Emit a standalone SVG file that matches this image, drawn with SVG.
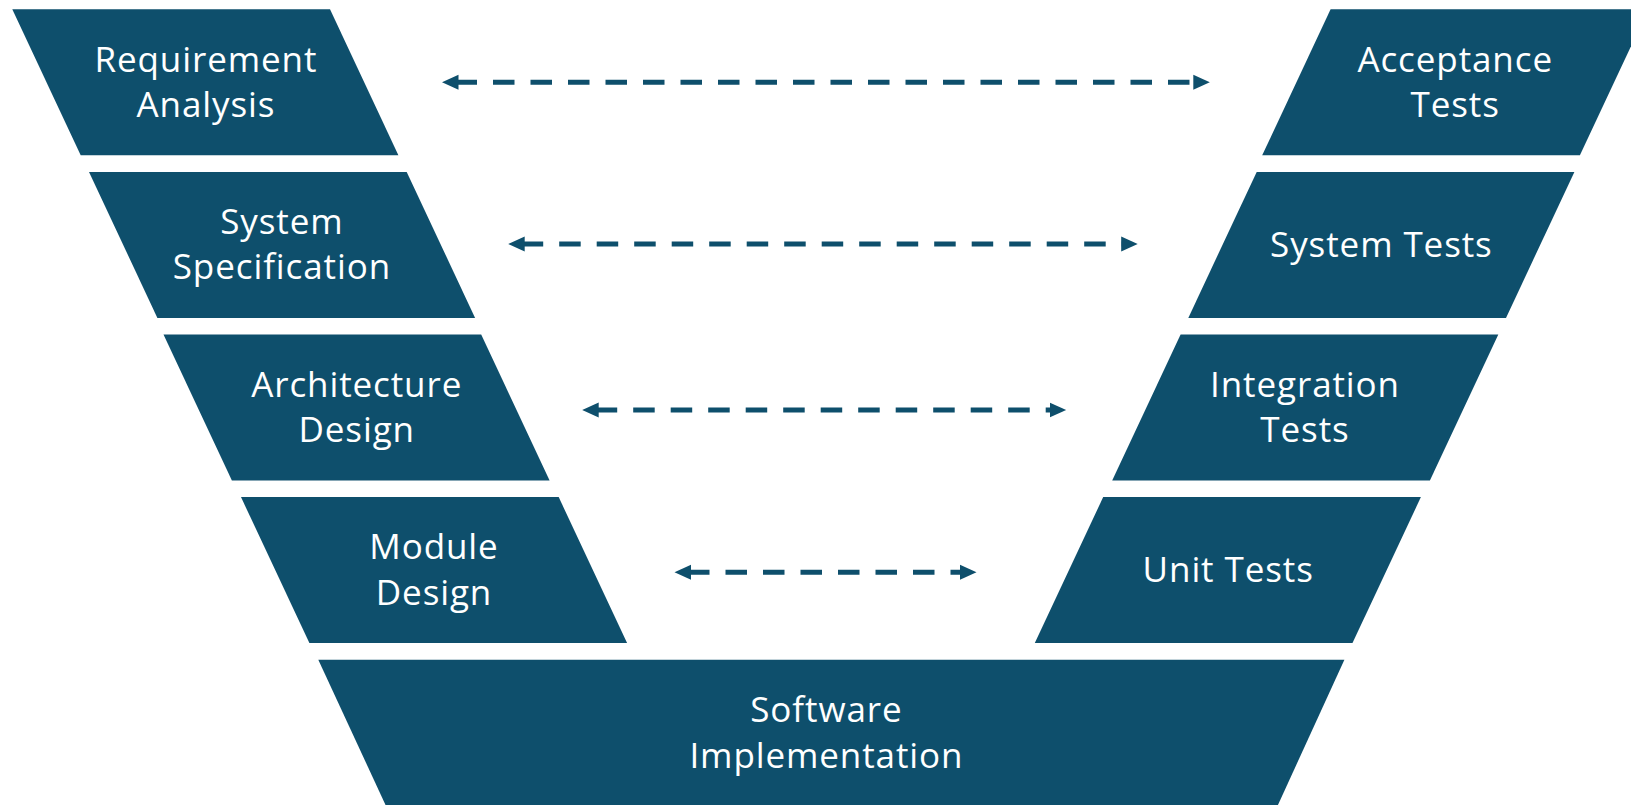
<svg xmlns="http://www.w3.org/2000/svg" width="1631" height="805" viewBox="0 0 1631 805">
  <style>
    .stage { fill: #0E4F6C; }
    .label { fill: #FFFFFF; font-family: "Open Sans", "Noto Sans", sans-serif; font-size: 35px; letter-spacing: 0.9px; text-anchor: middle; }
    .link { stroke: #0E4F6C; stroke-width: 5; fill: none; stroke-dasharray: 21.5 16; }
  </style>
  <defs>
    <marker id="head" markerUnits="userSpaceOnUse" markerWidth="17" markerHeight="16" refX="3" refY="7.5" orient="auto-start-reverse" viewBox="0 0 17 15">
      <path d="M0,0 L16.5,7.5 L0,15 Z" fill="#0E4F6C"/>
    </marker>
  </defs>

  <rect width="1631" height="805" fill="#FFFFFF"/>

  <!-- left arm: specification stages -->
  <g id="requirement-analysis">
    <polygon class="stage" points="12.3,9.3 330,9.3 398.4,155.3 80.7,155.3"/>
    <text class="label" x="205.9" y="71.7">Requirement</text>
    <text class="label" x="205.9" y="117.3">Analysis</text>
  </g>
  <g id="system-specification">
    <polygon class="stage" points="89,171.9 406.7,171.9 475.1,317.9 157.4,317.9"/>
    <text class="label" x="281.9" y="234">System</text>
    <text class="label" x="281.9" y="279.3">Specification</text>
  </g>
  <g id="architecture-design">
    <polygon class="stage" points="163.5,334.5 481.2,334.5 549.6,480.5 231.9,480.5"/>
    <text class="label" x="356.7" y="397.3">Architecture</text>
    <text class="label" x="356.7" y="441.8">Design</text>
  </g>
  <g id="module-design">
    <polygon class="stage" points="241,497.1 558.7,497.1 627.1,643.1 309.4,643.1"/>
    <text class="label" x="434" y="559.3">Module</text>
    <text class="label" x="434" y="605">Design</text>
  </g>

  <!-- base: implementation -->
  <g id="software-implementation">
    <polygon class="stage" points="318.3,659.7 1344.4,659.7 1277.5,806 386,806"/>
    <text class="label" x="826.4" y="721.7">Software</text>
    <text class="label" x="826.4" y="767.7">Implementation</text>
  </g>

  <!-- right arm: test stages -->
  <g id="acceptance-tests">
    <polygon class="stage" points="1330.6,9.3 1648.3,9.3 1579.9,155.3 1262.2,155.3"/>
    <text class="label" x="1455.2" y="71.7">Acceptance</text>
    <text class="label" x="1455.2" y="117.3">Tests</text>
  </g>
  <g id="system-tests">
    <polygon class="stage" points="1256.7,171.9 1574.4,171.9 1506,317.9 1188.3,317.9"/>
    <text class="label" x="1381.4" y="256.7">System Tests</text>
  </g>
  <g id="integration-tests">
    <polygon class="stage" points="1180.6,334.5 1498.3,334.5 1429.9,480.5 1112.2,480.5"/>
    <text class="label" x="1305" y="397.3">Integration</text>
    <text class="label" x="1305" y="441.8">Tests</text>
  </g>
  <g id="unit-tests">
    <polygon class="stage" points="1103.2,497.1 1420.9,497.1 1352.5,643.1 1034.8,643.1"/>
    <text class="label" x="1228.2" y="581.7">Unit Tests</text>
  </g>

  <!-- verification links between matching stages -->
  <g id="connectors">
    <line class="link" x1="455.5" y1="82.3" x2="1196.3" y2="82.3" marker-start="url(#head)" marker-end="url(#head)"/>
    <line class="link" x1="521.7" y1="244" x2="1124.2" y2="244" marker-start="url(#head)" marker-end="url(#head)"/>
    <line class="link" x1="595.7" y1="410" x2="1052.7" y2="410" marker-start="url(#head)" marker-end="url(#head)"/>
    <line class="link" x1="688" y1="572.3" x2="963" y2="572.3" marker-start="url(#head)" marker-end="url(#head)"/>
  </g>
</svg>
